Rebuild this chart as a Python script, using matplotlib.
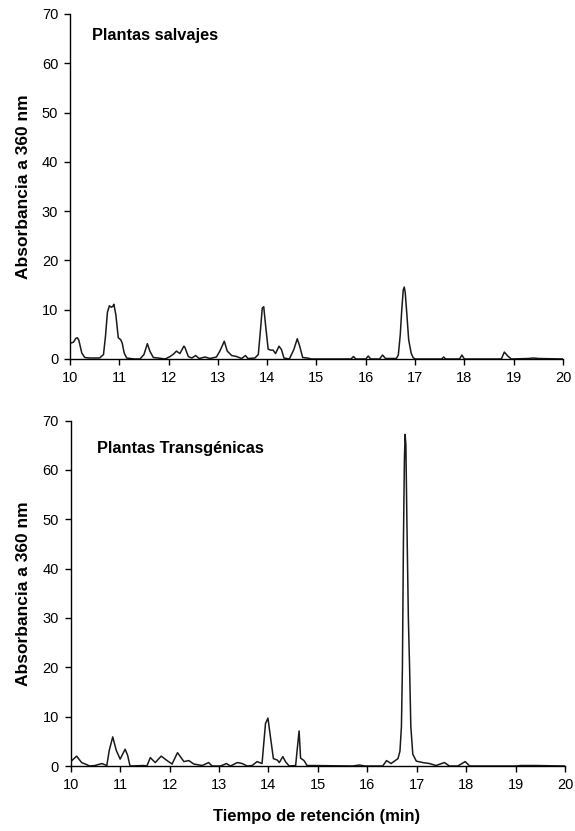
import matplotlib
matplotlib.use("Agg")
import matplotlib.pyplot as plt

plt.rcParams.update({
    "font.family": "Liberation Sans",
    "axes.linewidth": 1.0,
    "xtick.direction": "out",
    "ytick.direction": "out",
})

# retention time (min) / absorbance at 360 nm
wild_t = [10.00, 10.07, 10.12, 10.15, 10.18, 10.24, 10.30, 10.40, 10.50, 10.60,
          10.68, 10.72, 10.76, 10.80, 10.84, 10.87, 10.89, 10.93, 10.98, 11.03,
          11.06, 11.10, 11.15, 11.30, 11.42, 11.50, 11.57, 11.62, 11.69, 11.79,
          11.93, 12.03, 12.10, 12.16, 12.23, 12.31, 12.33, 12.40, 12.47, 12.55,
          12.62, 12.74, 12.84, 12.97, 13.04, 13.13, 13.19, 13.28, 13.38, 13.48,
          13.56, 13.61, 13.75, 13.82, 13.87, 13.90, 13.93, 13.97, 14.02, 14.07,
          14.12, 14.17, 14.24, 14.29, 14.34, 14.45, 14.54, 14.61, 14.66, 14.72,
          14.82, 14.89, 15.50, 15.70, 15.75, 15.80, 16.00, 16.05, 16.10, 16.28,
          16.34, 16.40, 16.62, 16.66, 16.70, 16.73, 16.76, 16.78, 16.80, 16.83,
          16.87, 16.92, 16.96, 17.00, 17.54, 17.58, 17.62, 17.90, 17.95, 18.00,
          18.75, 18.81, 18.88, 18.95, 19.30, 19.40, 19.50, 20.00]
wild_a = [3.2, 3.4, 4.2, 4.3, 3.8, 1.2, 0.3, 0.2, 0.2, 0.2,
          0.9, 4.6, 9.5, 10.8, 10.5, 10.7, 11.1, 9.0, 4.3, 3.9,
          3.2, 1.2, 0.2, 0.0, 0.0, 0.9, 3.1, 1.6, 0.3, 0.2,
          0.0, 0.5, 1.0, 1.6, 1.1, 2.6, 2.4, 0.5, 0.2, 0.7,
          0.1, 0.4, 0.1, 0.4, 1.6, 3.6, 1.6, 0.7, 0.5, 0.1,
          0.7, 0.1, 0.2, 0.9, 6.6, 10.3, 10.6, 6.6, 2.0, 1.8,
          1.8, 1.1, 2.6, 1.9, 0.2, 0.0, 1.9, 4.1, 2.6, 0.3,
          0.2, 0.0, 0.0, 0.0, 0.5, 0.0, 0.0, 0.6, 0.0, 0.0,
          0.8, 0.1, 0.1, 0.8, 5.0, 10.0, 14.0, 14.6, 13.5, 9.5,
          3.9, 1.2, 0.3, 0.0, 0.0, 0.4, 0.0, 0.0, 0.8, 0.0,
          0.0, 1.4, 0.6, 0.0, 0.1, 0.2, 0.1, 0.0]

trans_t = [10.00, 10.12, 10.22, 10.32, 10.38, 10.49, 10.63, 10.73, 10.78, 10.85,
           10.92, 11.00, 11.10, 11.15, 11.20, 11.47, 11.54, 11.61, 11.71, 11.83,
           11.95, 12.05, 12.16, 12.29, 12.39, 12.49, 12.66, 12.79, 12.86, 13.03,
           13.15, 13.23, 13.37, 13.47, 13.57, 13.67, 13.77, 13.87, 13.94, 13.99,
           14.04, 14.10, 14.18, 14.22, 14.29, 14.35, 14.42, 14.55, 14.58, 14.62,
           14.65, 14.72, 14.78, 14.89, 15.70, 15.84, 15.95, 16.31, 16.39, 16.48,
           16.62, 16.66, 16.69, 16.71, 16.73, 16.75, 16.765, 16.78, 16.80, 16.83,
           16.855, 16.88, 16.92, 16.99, 17.12, 17.26, 17.39, 17.56, 17.66, 17.83,
           17.98, 18.07, 19.00, 19.10, 19.40, 20.00]
trans_a = [0.9, 2.0, 0.7, 0.3, 0.0, 0.1, 0.5, 0.1, 3.2, 5.9,
           3.2, 1.4, 3.4, 2.2, 0.0, 0.1, 0.0, 1.7, 0.7, 2.0,
           1.1, 0.4, 2.7, 0.9, 1.1, 0.4, 0.1, 0.7, 0.0, 0.0,
           0.5, 0.0, 0.7, 0.5, 0.0, 0.1, 0.9, 0.5, 8.6, 9.7,
           5.9, 1.5, 1.2, 0.7, 1.9, 0.8, 0.0, 0.1, 3.2, 7.1,
           1.6, 1.1, 0.1, 0.1, 0.0, 0.2, 0.0, 0.0, 1.1, 0.5,
           1.5, 3.0, 8.0, 20.0, 45.0, 62.0, 67.2, 65.0, 50.0, 30.0,
           20.0, 8.0, 2.4, 1.0, 0.7, 0.5, 0.1, 0.7, 0.0, 0.0,
           0.9, 0.0, 0.0, 0.1, 0.1, 0.0]

panels = [
    ("Plantas salvajes", wild_t, wild_a, [0.1217, 0.568, 0.8574, 0.4152], (0.045, 0.938)),
    ("Plantas Transgénicas", trans_t, trans_a, [0.1230, 0.0782, 0.8597, 0.4157], (0.053, 0.918)),
]

fig = plt.figure(figsize=(5.75, 8.31), dpi=100)
for title, t, a, rect, tpos in panels:
    ax = fig.add_axes(rect)
    ax.plot(t, a, color="#1a1a1a", linewidth=1.1)
    ax.set_xlim(10, 20)
    ax.set_ylim(0, 70)
    ax.set_xticks(range(10, 21))
    ax.set_yticks(range(0, 71, 10))
    ax.tick_params(labelsize=10.5, length=4, width=1.0, pad=4.5)
    ax.spines[["top", "right"]].set_visible(False)
    ax.set_ylabel("Absorbancia a 360 nm", fontsize=12.5, weight="bold")
    ax.yaxis.set_label_coords(-0.08, 0.5)
    ax.text(tpos[0], tpos[1], title, transform=ax.transAxes, fontsize=11.8,
            weight="bold", va="center", ha="left")

fig.text(317 / 575, 1 - 817 / 831, "Tiempo de retención (min)", fontsize=12,
         weight="bold", ha="center", va="center")

plt.savefig("out.png", dpi=100)
